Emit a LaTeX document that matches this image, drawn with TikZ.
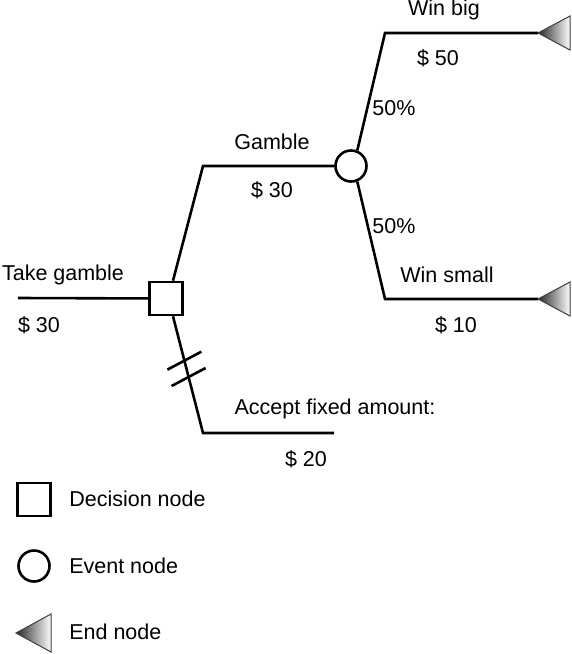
\documentclass[tikz,border=0pt]{standalone}
\usepackage{fontspec}
\setmainfont{Liberation Sans}
\usetikzlibrary{calc}
\begin{document}
\begin{tikzpicture}[x=1pt, y=-1pt, line width=2.6pt,
    decision/.style={rectangle, draw, minimum size=33pt, inner sep=0pt},
    event/.style={circle, draw, minimum size=31pt, inner sep=0pt},
    endnode/.style={draw=black!75, line width=1pt, line join=miter,
      left color=black!85, right color=white},
    lbl/.style={font=\fontsize{21.5}{25}\selectfont, inner sep=0pt}]
    \useasboundingbox (0,0) rectangle (572,654);
    % decision tree
    \node[decision] (take) at (166,298.5) {};
    \node[event] (gamble) at (351,166) {};
    \coordinate (big) at (538,33);
    \coordinate (small) at (538,299);
    \coordinate (start) at (18,298);
    \coordinate (tt) at ($(take.north)+(7,0)$);
    \coordinate (tb) at ($(take.south)+(7,0)$);
    \coordinate (g1) at (203,166);
    \coordinate (b1) at (385,33);
    \coordinate (s1) at (385,299);
    \coordinate (f1) at (203,433);
    \coordinate (f2) at (334,433);
    \draw (start) -- (take);
    \draw (tt) -- (g1) -- (gamble);
    \draw (gamble.68) -- (b1) -- (big);
    \draw (gamble.-68) -- (s1) -- (small);
    \draw (tb) -- (f1) -- (f2);
    \shadedraw[endnode] (big) -- ++(32,-17) -- ++(0,34) -- cycle;
    \shadedraw[endnode] (small) -- ++(32,-17) -- ++(0,34) -- cycle;
    % cut branch
    \coordinate (c1) at ($(tb)!0.38!(f1)$);
    \coordinate (c2) at ($(tb)!0.52!(f1)$);
    \draw ($(c1)+(-17,9)$) -- ($(c1)+(17,-9)$);
    \draw ($(c2)+(-17,9)$) -- ($(c2)+(17,-9)$);
    % labels
    \begin{scope}[every node/.style={lbl}]
      \node (ltake) at (63,275) {Take gamble};
      \node (vtake) at (39,325) {\$ 30};
      \node (lgamble) at (272,142) {Gamble};
      \node (vgamble) at (272,190) {\$ 30};
      \node (lbig) at (444,10) {Win big};
      \node (vbig) at (438,58) {\$ 50};
      \node (pbig) at (394,108) {50\%};
      \node (psmall) at (394,226) {50\%};
      \node (lsmall) at (447,275) {Win small};
      \node (vsmall) at (456,325) {\$ 10};
      \node (lfixed) at (335,409) {Accept fixed amount:};
      \node (vfixed) at (306,459) {\$ 20};
    \end{scope}
    % legend
    \node[decision] (legdec) at (34,499.5) {};
    \node[event] (legevt) at (34,566) {};
    \coordinate (legend) at (16,633);
    \shadedraw[endnode] (legend) -- ++(35,-19) -- ++(0,38) -- cycle;
    \begin{scope}[every node/.style={lbl, anchor=west}]
      \node (tdec) at (68,499) {Decision node};
      \node (tevt) at (68,566) {Event node};
      \node (tend) at (68,632) {End node};
    \end{scope}
\end{tikzpicture}
\end{document}
